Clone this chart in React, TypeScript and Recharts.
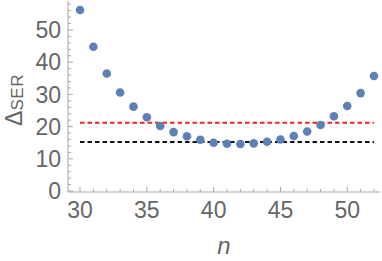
import { ReferenceLine, Scatter, ScatterChart, XAxis, YAxis } from "recharts";

const nValues = [30, 31, 32, 33, 34, 35, 36, 37, 38, 39, 40, 41, 42, 43, 44, 45, 46, 47, 48, 49, 50, 51, 52];
const serValues = [
  56.2, 44.8, 36.5, 30.6, 26.2, 22.9, 20.2, 18.3, 17.0, 15.9, 15.0, 14.7, 14.6, 14.8, 15.3, 16.0, 17.1,
  18.5, 20.5, 23.2, 26.4, 30.4, 35.7,
];
const redLevel = 21.2;
const blackLevel = 15.2;

const xMajorTicks = [30, 35, 40, 45, 50];
const xAllTicks = [30, 31, 32, 33, 34, 35, 36, 37, 38, 39, 40, 41, 42, 43, 44, 45, 46, 47, 48, 49, 50, 51, 52];
const yMajorTicks = [0, 10, 20, 30, 40, 50];
const yAllTicks = [
  0, 2, 4, 6, 8, 10, 12, 14, 16, 18, 20, 22, 24, 26, 28, 30, 32, 34, 36, 38, 40, 42, 44, 46, 48, 50, 52, 54, 56, 58,
];

const data = nValues.map((n, i) => ({ n, v: serValues[i] }));

const frame = "#a6a6a6";
const labelColor = "#666";
const font = "'Liberation Sans', Arial, sans-serif";

function BottomTick(props: any) {
  const { x, y, payload } = props;
  const major = xMajorTicks.includes(payload.value);
  return (
    <g>
      <line x1={x} x2={x} y1={y} y2={y - (major ? 5 : 3)} stroke={frame} />
      {major && (
        <text x={x} y={y + 26} textAnchor="middle" fontSize={23} fill={labelColor} fontFamily={font}>
          {payload.value}
        </text>
      )}
    </g>
  );
}

function TopTick(props: any) {
  const { x, y, payload } = props;
  const major = xMajorTicks.includes(payload.value);
  return <line x1={x} x2={x} y1={y} y2={y + (major ? 5 : 3)} stroke={frame} />;
}

function LeftTick(props: any) {
  const { x, y, payload } = props;
  const major = yMajorTicks.includes(payload.value);
  return (
    <g>
      <line x1={x} x2={x + (major ? 5 : 3)} y1={y} y2={y} stroke={frame} />
      {major && (
        <text x={x - 7} y={y + 8.3} textAnchor="end" fontSize={23} fill={labelColor} fontFamily={font}>
          {payload.value}
        </text>
      )}
    </g>
  );
}

function RightTick(props: any) {
  const { x, y, payload } = props;
  const major = yMajorTicks.includes(payload.value);
  return <line x1={x} x2={x - (major ? 5 : 3)} y1={y} y2={y} stroke={frame} />;
}

function Dot(props: any) {
  const { cx, cy } = props;
  return <circle cx={cx} cy={cy} r={4.3} fill="#5e81b5" />;
}

function YTitle() {
  const cx = 22;
  const cy = 100;
  return (
    <text
      x={cx}
      y={cy}
      textAnchor="middle"
      transform={`rotate(-90, ${cx}, ${cy})`}
      fill={labelColor}
      fontFamily={font}
    >
      <tspan fontSize={23}>Δ</tspan>
      <tspan fontSize={17} dy={0.5} letterSpacing={0.5}>
        SER
      </tspan>
    </text>
  );
}

export default function App() {
  return (
    <div style={{ position: "absolute", left: 0, top: 0 }}>
      <ScatterChart width={382} height={261} margin={{ top: 1, right: 2, left: 0, bottom: 0 }}>
        <XAxis
          dataKey="n"
          type="number"
          domain={[29.1, 52.45]}
          allowDataOverflow
          ticks={xAllTicks}
          interval={0}
          height={69}
          tickSize={0}
          tickMargin={0}
          tick={<BottomTick />}
          axisLine={{ stroke: frame }}
          label={{
            content: (p: any) => (
              <text
                x={p.viewBox.x + p.viewBox.width / 2}
                y={p.viewBox.y + 61.5}
                textAnchor="middle"
                fontSize={24}
                fontStyle="italic"
                fill={labelColor}
                fontFamily={font}
              >
                n
              </text>
            ),
          }}
        />
        <XAxis
          xAxisId="top"
          orientation="top"
          type="number"
          domain={[29.1, 52.45]}
          allowDataOverflow
          ticks={xAllTicks}
          interval={0}
          height={0}
          tickSize={0}
          tickMargin={0}
          tick={<TopTick />}
          axisLine={{ stroke: frame }}
        />
        <YAxis
          dataKey="v"
          type="number"
          domain={[-0.3, 59]}
          allowDataOverflow
          ticks={yAllTicks}
          interval={0}
          width={68}
          tickSize={0}
          tickMargin={0}
          tick={<LeftTick />}
          axisLine={{ stroke: frame }}
          label={{ content: () => <YTitle /> }}
        />
        <YAxis
          yAxisId="right"
          orientation="right"
          type="number"
          domain={[-0.3, 59]}
          allowDataOverflow
          ticks={yAllTicks}
          interval={0}
          width={0}
          tickSize={0}
          tickMargin={0}
          tick={<RightTick />}
          axisLine={{ stroke: frame }}
        />
        <ReferenceLine
          segment={[
            { x: 30, y: redLevel },
            { x: 52, y: redLevel },
          ]}
          stroke="#f42121"
          strokeWidth={2}
          strokeDasharray="4.5 3"
        />
        <ReferenceLine
          segment={[
            { x: 30, y: blackLevel },
            { x: 52, y: blackLevel },
          ]}
          stroke="#111"
          strokeWidth={2}
          strokeDasharray="4.5 3"
        />
        <Scatter data={data} shape={<Dot />} isAnimationActive={false} />
      </ScatterChart>
    </div>
  );
}
